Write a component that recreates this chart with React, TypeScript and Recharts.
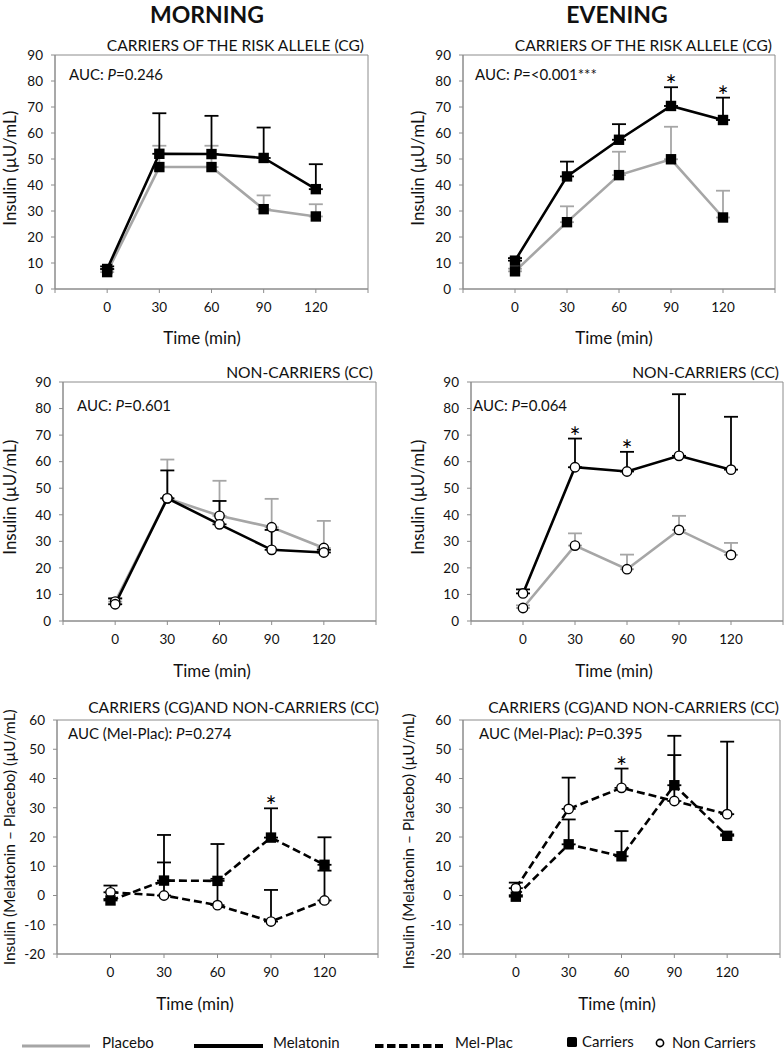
import React from 'react';
import { LineChart, Line, XAxis, YAxis, ErrorBar, ReferenceArea, ReferenceDot } from 'recharts';

const FONT = "Lato, 'Open Sans', sans-serif";
const GRAY = '#a6a6a6';
const BLACK = '#000000';
const AXIS = '#8c8c8c';
const TXT = '#111111';

// ---------- data ----------
const times = [0, 30, 60, 90, 120];
const xTicks = [-30, 0, 30, 60, 90, 120, 150];
const insulinTicks = [0, 10, 20, 30, 40, 50, 60, 70, 80, 90];
const diffTicks = [-20, -10, 0, 10, 20, 30, 40, 50, 60];

// Morning – carriers (CG)
const mornCarPlacebo = [6.5, 46.9, 46.9, 30.7, 27.9];
const mornCarPlaceboSem = [1.0, 8.2, 8.2, 5.3, 4.7];
const mornCarMel = [7.7, 52.0, 51.9, 50.4, 38.4];
const mornCarMelSem = [1.0, 15.6, 14.7, 11.7, 9.6];

// Evening – carriers (CG)
const eveCarPlacebo = [6.8, 25.7, 43.8, 49.9, 27.5];
const eveCarPlaceboSem = [1.0, 6.1, 9.0, 12.5, 10.3];
const eveCarMel = [10.9, 43.3, 57.4, 70.4, 65.0];
const eveCarMelSem = [1.0, 5.7, 6.0, 7.2, 8.6];
const eveCarStars = [90, 120];

// Morning – non-carriers (CC)
const mornNonPlacebo = [7.3, 46.2, 39.6, 35.3, 27.5];
const mornNonPlaceboSem = [1.2, 14.6, 13.2, 10.7, 10.2];
const mornNonMel = [6.3, 46.2, 36.4, 26.8, 25.8];
const mornNonMelSem = [2.2, 10.5, 8.8, 7.5, 1.0];

// Evening – non-carriers (CC)
const eveNonPlacebo = [4.9, 28.4, 19.5, 34.3, 24.9];
const eveNonPlaceboSem = [1.0, 4.6, 5.5, 5.3, 4.5];
const eveNonMel = [10.4, 57.9, 56.3, 62.2, 57.0];
const eveNonMelSem = [1.5, 10.8, 7.4, 23.2, 19.9];
const eveNonStars = [30, 60];

// Morning – Mel-Plac difference
const mornDiffCar = [-1.7, 5.1, 5.0, 19.8, 10.5];
const mornDiffCarSem = [0.5, 15.6, 12.6, 10.0, 9.4];
const mornDiffNon = [1.1, 0.0, -3.3, -8.9, -1.7];
const mornDiffNonSem = [2.3, 11.3, 9.0, 10.8, 10.2];
const mornDiffStars = [90];

// Evening – Mel-Plac difference
const eveDiffCar = [-0.4, 17.5, 13.4, 37.7, 20.4];
const eveDiffCarSem = [0.5, 8.5, 8.6, 10.3, 0.5];
const eveDiffNon = [2.5, 29.6, 36.8, 32.3, 27.8];
const eveDiffNonSem = [1.9, 10.7, 6.6, 22.3, 24.8];
const eveDiffStars = [60];

type Row = { t: number; a: number; aErr: number[]; b: number; bErr: number[] };

const buildTable = (a: number[], aSem: number[], b: number[], bSem: number[]): Row[] =>
  times.map((t, i) => ({ t, a: a[i], aErr: [0, aSem[i]], b: b[i], bErr: [0, bSem[i]] }));

const starsFor = (xs: number[], vals: number[], sems: number[]) =>
  xs.map((x) => {
    const i = times.indexOf(x);
    return { x, y: vals[i] + sems[i] };
  });

// ---------- marks ----------
const SquareDot = (props: any) => {
  const { cx, cy, index } = props;
  if (cx == null || cy == null) return <g key={'s' + index} />;
  return <rect key={'s' + index} x={cx - 5.2} y={cy - 5.2} width={10.4} height={10.4} fill="#000" />;
};

const CircleDot = (props: any) => {
  const { cx, cy, index } = props;
  if (cx == null || cy == null) return <g key={'c' + index} />;
  return <circle key={'c' + index} cx={cx} cy={cy} r={4.7} fill="#fff" stroke="#000" strokeWidth={1.4} />;
};

const StarShape = (props: any) => (
  <text
    x={props.cx}
    y={props.cy + 8}
    textAnchor="middle"
    fontSize={26}
    fontFamily={FONT}
    fill="#000"
    stroke="none"
  >
    *
  </text>
);

type Series = { key: 'a' | 'b'; color: string; dashed: boolean; marker: 'square' | 'circle' };

type PanelProps = {
  rect: { x: number; y: number; w: number; h: number };
  data: Row[];
  yDomain: [number, number];
  yTicks: number[];
  series: Series[];
  stars: { x: number; y: number }[];
};

const Panel = ({ rect, data, yDomain, yTicks, series, stars }: PanelProps) => {
  const tickStyle = { fill: TXT, fontSize: 13.5, fontFamily: FONT };
  return (
    <div style={{ position: 'absolute', left: rect.x - 50, top: rect.y - 10 }}>
      <LineChart
        width={rect.w + 60}
        height={rect.h + 40}
        data={data}
        margin={{ top: 10, right: 10, bottom: 0, left: 0 }}
      >
        <XAxis
          type="number"
          dataKey="t"
          domain={[-30, 150]}
          ticks={xTicks}
          interval={0}
          tickFormatter={(v: number) => (v < 0 || v > 120 ? '' : String(v))}
          tickSize={4}
          tickMargin={9}
          height={30}
          stroke={AXIS}
          tick={tickStyle}
          allowDataOverflow
        />
        <YAxis
          type="number"
          domain={yDomain}
          ticks={yTicks}
          interval={0}
          width={50}
          tickSize={4}
          tickMargin={8}
          stroke={AXIS}
          tick={tickStyle}
          allowDataOverflow
        />
        <ReferenceArea
          x1={-30}
          x2={150}
          y1={yDomain[0]}
          y2={yDomain[1]}
          fill="none"
          fillOpacity={0}
          stroke={AXIS}
          strokeWidth={1}
          ifOverflow="visible"
        />
        {series.map((s) => (
          <Line
            key={s.key}
            type="linear"
            dataKey={s.key}
            stroke={s.color}
            strokeWidth={2.6}
            strokeDasharray={s.dashed ? '8 4' : undefined}
            dot={s.marker === 'square' ? SquareDot : CircleDot}
            activeDot={false}
            isAnimationActive={false}
          >
            <ErrorBar
              dataKey={s.key === 'a' ? 'aErr' : 'bErr'}
              direction="y"
              width={7}
              strokeWidth={1.8}
              stroke={s.color}
              isAnimationActive={false}
            />
          </Line>
        ))}
        {stars.map((st, i) => (
          <ReferenceDot key={i} x={st.x} y={st.y} r={0} shape={StarShape} ifOverflow="visible" />
        ))}
      </LineChart>
    </div>
  );
};

// ---------- text helpers ----------
const base = (size: number, lh: number) => ({
  position: 'absolute' as const,
  lineHeight: `${size * lh}px`,
  fontSize: size,
  fontFamily: FONT,
  color: TXT,
  whiteSpace: 'nowrap' as const,
});

const Centered = ({ cx, cy, size, bold, lh = 1.2, children }: any) => (
  <div
    style={{
      ...base(size, lh),
      left: cx - 200,
      width: 400,
      top: cy - (size * lh) / 2,
      fontWeight: bold ? 700 : 400,
      textAlign: 'center',
    }}
  >
    {children}
  </div>
);

const RightText = ({ right, cy, size, children }: any) => (
  <div style={{ ...base(size, 1.2), left: right - 400, width: 400, top: cy - size * 0.6, textAlign: 'right' }}>
    {children}
  </div>
);

const LeftText = ({ left, cy, size, lh = 1.2, children }: any) => (
  <div style={{ ...base(size, lh), left, top: cy - (size * lh) / 2 }}>{children}</div>
);

const VText = ({ cx, cy, size, children }: any) => (
  <div
    style={{
      ...base(size, 1.2),
      left: cx - 200,
      width: 400,
      top: cy - size * 0.6,
      textAlign: 'center',
      transform: 'rotate(-90deg)',
    }}
  >
    {children}
  </div>
);

const Auc = ({ p }: { p: string }) => (
  <span>
    AUC: <i>P</i>={p}
  </span>
);
const AucDiff = ({ p }: { p: string }) => (
  <span>
    AUC (Mel-Plac): <i>P</i>={p}
  </span>
);

const INS = 'Insulin (µU/mL)';
const DIFF = 'Insulin (Melatonin – Placebo) (µU/mL)';
const TIME = 'Time (min)';

const placeboMel: Series[] = [
  { key: 'a', color: GRAY, dashed: false, marker: 'square' },
  { key: 'b', color: BLACK, dashed: false, marker: 'square' },
];
const placeboMelCircle: Series[] = [
  { key: 'a', color: GRAY, dashed: false, marker: 'circle' },
  { key: 'b', color: BLACK, dashed: false, marker: 'circle' },
];
const diffSeries: Series[] = [
  { key: 'a', color: BLACK, dashed: true, marker: 'circle' },
  { key: 'b', color: BLACK, dashed: true, marker: 'square' },
];

const SUB = 15.6;
const LAB = 17;

export default function App() {
  return (
    <div
      style={{
        position: 'absolute',
        left: 0,
        top: 0,
        width: 784,
        height: 1050,
        overflow: 'hidden',
        background: '#fff',
      }}
    >
      <Centered cx={207} cy={14.5} size={23} lh={1} bold>
        MORNING
      </Centered>
      <Centered cx={617} cy={14.5} size={23} lh={1} bold>
        EVENING
      </Centered>

      {/* Row 1 */}
      <Panel
        rect={{ x: 55, y: 55, w: 313, h: 234 }}
        data={buildTable(mornCarPlacebo, mornCarPlaceboSem, mornCarMel, mornCarMelSem)}
        yDomain={[0, 90]}
        yTicks={insulinTicks}
        series={placeboMel}
        stars={[]}
      />
      <Panel
        rect={{ x: 463, y: 55, w: 312, h: 234 }}
        data={buildTable(eveCarPlacebo, eveCarPlaceboSem, eveCarMel, eveCarMelSem)}
        yDomain={[0, 90]}
        yTicks={insulinTicks}
        series={placeboMel}
        stars={starsFor(eveCarStars, eveCarMel, eveCarMelSem)}
      />
      <RightText right={364} cy={45} size={SUB}>CARRIERS OF THE RISK ALLELE (CG)</RightText>
      <RightText right={772} cy={45} size={SUB}>CARRIERS OF THE RISK ALLELE (CG)</RightText>
      <LeftText left={69} cy={74} size={15}><Auc p="0.246" /></LeftText>
      <LeftText left={475} cy={74} size={15}><Auc p="<0.001***" /></LeftText>
      <VText cx={10} cy={168} size={LAB}>{INS}</VText>
      <VText cx={418} cy={168} size={LAB}>{INS}</VText>
      <Centered cx={202} cy={338} size={LAB}>{TIME}</Centered>
      <Centered cx={614} cy={338} size={LAB}>{TIME}</Centered>

      {/* Row 2 */}
      <Panel
        rect={{ x: 63, y: 382, w: 313, h: 239 }}
        data={buildTable(mornNonPlacebo, mornNonPlaceboSem, mornNonMel, mornNonMelSem)}
        yDomain={[0, 90]}
        yTicks={insulinTicks}
        series={placeboMelCircle}
        stars={[]}
      />
      <Panel
        rect={{ x: 471, y: 382, w: 312, h: 239 }}
        data={buildTable(eveNonPlacebo, eveNonPlaceboSem, eveNonMel, eveNonMelSem)}
        yDomain={[0, 90]}
        yTicks={insulinTicks}
        series={placeboMelCircle}
        stars={starsFor(eveNonStars, eveNonMel, eveNonMelSem)}
      />
      <RightText right={373} cy={372} size={SUB}>NON-CARRIERS (CC)</RightText>
      <RightText right={779} cy={372} size={SUB}>NON-CARRIERS (CC)</RightText>
      <LeftText left={77} cy={405} size={15}><Auc p="0.601" /></LeftText>
      <LeftText left={473} cy={405} size={15}><Auc p="0.064" /></LeftText>
      <VText cx={10} cy={497} size={LAB}>{INS}</VText>
      <VText cx={418} cy={497} size={LAB}>{INS}</VText>
      <Centered cx={212} cy={671} size={LAB}>{TIME}</Centered>
      <Centered cx={614} cy={671} size={LAB}>{TIME}</Centered>

      {/* Row 3 */}
      <Panel
        rect={{ x: 57, y: 720, w: 321, h: 234 }}
        data={buildTable(mornDiffNon, mornDiffNonSem, mornDiffCar, mornDiffCarSem)}
        yDomain={[-20, 60]}
        yTicks={diffTicks}
        series={diffSeries}
        stars={starsFor(mornDiffStars, mornDiffCar, mornDiffCarSem)}
      />
      <Panel
        rect={{ x: 463, y: 720, w: 317, h: 234 }}
        data={buildTable(eveDiffNon, eveDiffNonSem, eveDiffCar, eveDiffCarSem)}
        yDomain={[-20, 60]}
        yTicks={diffTicks}
        series={diffSeries}
        stars={starsFor(eveDiffStars, eveDiffNon, eveDiffNonSem)}
      />
      <RightText right={379} cy={707} size={SUB}>CARRIERS (CG)AND NON-CARRIERS (CC)</RightText>
      <RightText right={779} cy={707} size={SUB}>CARRIERS (CG)AND NON-CARRIERS (CC)</RightText>
      <LeftText left={68} cy={733} size={15}><AucDiff p="0.274" /></LeftText>
      <LeftText left={479} cy={733} size={15}><AucDiff p="0.395" /></LeftText>
      <VText cx={9} cy={837} size={15.5}>{DIFF}</VText>
      <VText cx={408} cy={841} size={15.5}>{DIFF}</VText>
      <Centered cx={195} cy={1004} size={LAB}>{TIME}</Centered>
      <Centered cx={617} cy={1004} size={LAB}>{TIME}</Centered>

      {/* Legend */}
      <svg style={{ position: 'absolute', left: 0, top: 1030 }} width={784} height={20}>
        <line x1={22} x2={90} y1={16} y2={16} stroke={GRAY} strokeWidth={3} />
        <line x1={194} x2={263} y1={16} y2={16} stroke={BLACK} strokeWidth={4} />
        <line x1={375} x2={443} y1={16} y2={16} stroke={BLACK} strokeWidth={4} strokeDasharray="8.5 3.5" />
        <rect x={567} y={7} width={10} height={10} rx={1.5} fill={BLACK} />
        <circle cx={660} cy={13} r={3.6} fill="#fff" stroke={BLACK} strokeWidth={1.6} />
      </svg>
      <LeftText left={102} cy={1042} size={15} lh={1}>Placebo</LeftText>
      <LeftText left={273} cy={1042} size={15} lh={1}>Melatonin</LeftText>
      <LeftText left={455} cy={1042} size={15} lh={1}>Mel-Plac</LeftText>
      <LeftText left={582} cy={1041} size={15} lh={1}>Carriers</LeftText>
      <LeftText left={672} cy={1042} size={15} lh={1}>Non Carriers</LeftText>
    </div>
  );
}
